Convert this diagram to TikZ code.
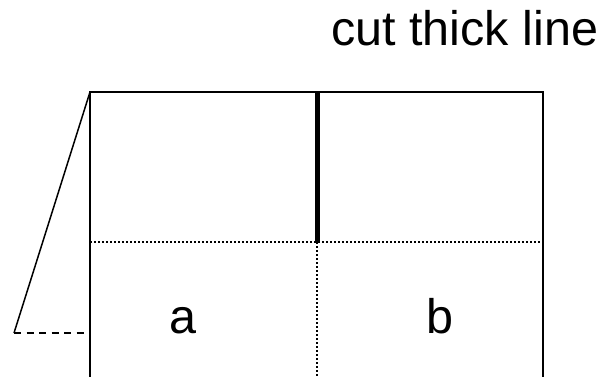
\documentclass[tikz,border=0pt]{standalone}
\usepackage{fontspec}
\setmainfont{Liberation Sans}
\tikzset{
  edge/.style={line width=1.5pt, line join=miter},
  cutline/.style={line width=5pt},
  fold/.style={line width=1.2pt, dash pattern=on 2pt off 2pt},
  flap/.style={line width=1.5pt},
  flapdash/.style={line width=1.5pt, dash pattern=on 7pt off 5.5pt},
  lbl/.style={inner sep=0pt, font=\fontsize{48.5}{58}\selectfont}
}
\begin{document}
\begin{tikzpicture}[x=1pt,y=-1pt]
\useasboundingbox (0,0) rectangle (597,376);
\clip (0,0) rectangle (597,376);
\coordinate (tl) at (90,92);
\coordinate (tr) at (543,92);
\coordinate (bl) at (90,380);
\coordinate (br) at (543,380);
\coordinate (ml) at (90,242);
\coordinate (mr) at (543,242);
\coordinate (ct) at (317,92);
\coordinate (cm) at (317,242);
\coordinate (cb) at (317,380);
\coordinate (fb) at (14,333);
\coordinate (fr) at (90,333);
% folds
\draw[fold] (ml) -- (mr);
\draw[fold] (cm) -- (cb);
% cut
\draw[cutline] (ct) -- (cm);
% outline
\draw[edge] (bl) -- (tl) -- (tr) -- (br);
% flap
\draw[flap] (tl) -- (fb);
\draw[flapdash] (fb) -- (fr);
% labels
\node[lbl, anchor=base west] (title) at (331,45) {cut thick line};
\node[lbl, anchor=base] (a) at (183,333) {a};
\node[lbl, anchor=base] (b) at (440,333) {b};
\end{tikzpicture}
\end{document}
